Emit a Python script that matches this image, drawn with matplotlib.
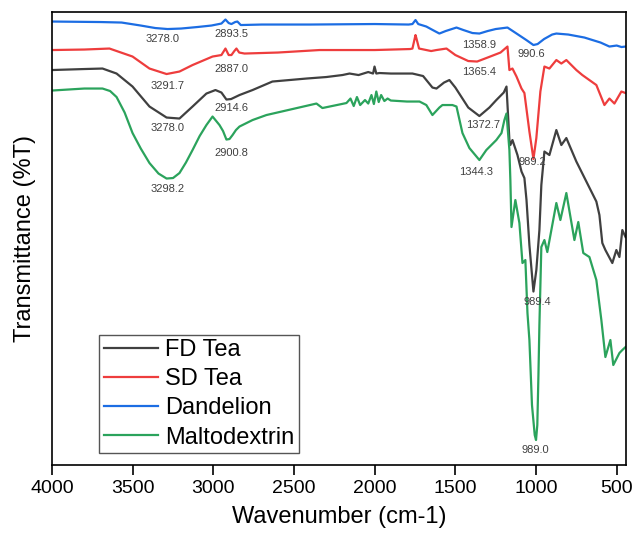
import matplotlib
matplotlib.use("Agg")
import matplotlib.pyplot as plt

plt.rcParams["font.family"] = ["Liberation Sans", "DejaVu Sans"]

# FTIR spectra, values (wavenumber cm-1, transmittance a.u.)
fd_wn = [4000, 3800, 3687, 3600, 3501, 3396, 3290, 3210, 3129, 3043, 2987, 2950, 2919,
         2890, 2838, 2757, 2634, 2423, 2300, 2200, 2156, 2100, 2040, 2010, 2001, 1990,
         1970, 1900, 1766, 1700, 1642, 1617, 1570, 1537, 1500, 1420, 1351, 1289, 1246,
         1200, 1183, 1165, 1159, 1146, 1115, 1090, 1072, 1059, 1041, 1016, 998, 979, 967,
         948, 917, 874, 843, 812, 750, 688, 626, 607, 589, 570, 527, 502, 483, 465, 445]
fd_t = [79.0, 79.2, 79.3, 78.3, 75.7, 71.7, 69.5, 69.3, 71.7, 74.3, 75.0, 74.5, 73.1,
        73.2, 74.0, 75.0, 76.7, 77.3, 77.6, 78.0, 78.3, 78.0, 78.6, 78.3, 79.7, 78.3,
        78.4, 78.3, 78.3, 77.8, 75.5, 75.3, 76.5, 77.0, 75.5, 71.5, 69.8, 71.5, 73.0,
        74.5, 75.7, 65.0, 64.0, 65.0, 62.0, 58.7, 57.4, 53.0, 44.0, 34.7, 39.0, 47.0, 56.0,
        62.7, 62.0, 67.0, 64.0, 65.4, 60.7, 56.7, 52.7, 50.0, 44.4, 43.0, 40.4, 43.0, 41.6,
        47.0, 45.6]

sd_wn = [4000, 3800, 3644, 3501, 3396, 3290, 3210, 3129, 3005, 2950, 2925, 2905, 2888,
         2870, 2857, 2840, 2807, 2600, 2342, 2000, 1780, 1766, 1747, 1741, 1725, 1650,
         1617, 1555, 1500, 1420, 1365, 1300, 1220, 1177, 1165, 1146, 1121, 1090, 1072,
         1041, 1016, 998, 973, 948, 917, 874, 843, 812, 750, 713, 626, 576, 545, 514, 471, 445]
sd_t = [83.0, 83.1, 83.3, 81.7, 79.3, 78.2, 78.7, 80.0, 81.7, 82.0, 83.3, 82.0, 82.0,
        82.8, 83.3, 82.5, 82.3, 82.5, 83.0, 83.0, 83.2, 83.3, 86.0, 85.3, 83.3, 82.8,
        83.0, 83.3, 82.0, 80.8, 80.7, 81.5, 82.5, 83.7, 79.0, 79.3, 77.7, 75.3, 74.4,
        66.7, 61.2, 65.4, 74.7, 79.7, 79.3, 81.0, 80.3, 81.0, 79.0, 78.0, 76.0, 72.0, 73.3,
        72.3, 74.7, 74.4]

dn_wn = [4000, 3700, 3569, 3450, 3360, 3284, 3200, 3100, 3012, 2950, 2925, 2905, 2888,
         2865, 2851, 2830, 2700, 2400, 2000, 1790, 1766, 1747, 1730, 1680, 1640, 1599,
         1560, 1493, 1450, 1394, 1351, 1300, 1250, 1177, 1130, 1060, 1016, 990, 950, 900,
         874, 800, 700, 600, 545, 500, 470, 445]
dn_t = [88.7, 88.6, 88.5, 87.9, 87.4, 87.2, 87.3, 87.6, 87.9, 88.3, 89.1, 88.4, 88.2,
        88.6, 88.7, 88.0, 88.1, 88.1, 88.2, 88.1, 88.2, 89.0, 88.2, 87.7, 87.0, 86.3,
        86.8, 87.5, 87.0, 86.4, 86.3, 86.8, 87.2, 87.5, 86.5, 85.0, 84.0, 84.2, 85.2, 86.1,
        86.3, 86.1, 85.5, 84.5, 83.7, 83.9, 83.6, 83.7]

md_wn = [4000, 3800, 3687, 3640, 3600, 3550, 3501, 3450, 3396, 3340, 3290, 3250, 3210,
         3170, 3129, 3085, 3043, 3005, 2962, 2940, 2919, 2900, 2881, 2860, 2838, 2757,
         2671, 2361, 2324, 2175, 2150, 2130, 2110, 2090, 2060, 2040, 2020, 2005, 1990,
         1975, 1960, 1940, 1920, 1900, 1800, 1722, 1680, 1642, 1599, 1580, 1518, 1493,
         1456, 1413, 1351, 1308, 1246, 1214, 1196, 1183, 1165, 1159, 1152, 1128, 1103,
         1084, 1066, 1053, 1041, 1025, 1008, 1000, 992, 985, 979, 967, 948, 930, 874,
         849, 812, 762, 738, 707, 669, 626, 595, 570, 539, 521, 483, 465, 445]
md_t = [74.9, 75.3, 75.3, 74.8, 73.6, 70.5, 66.4, 63.3, 60.4, 58.3, 57.3, 57.4, 58.4,
        60.5, 63.0, 65.8, 68.0, 69.7, 68.0, 66.8, 65.1, 65.2, 66.0, 67.0, 67.7, 69.0,
        70.0, 72.3, 71.4, 72.4, 73.3, 71.8, 73.6, 72.0, 73.0, 72.3, 74.0, 72.2, 74.7,
        72.6, 74.0, 72.8, 73.3, 72.9, 72.7, 72.7, 72.0, 70.0, 71.5, 72.0, 72.0, 71.7,
        66.4, 63.4, 61.0, 63.0, 65.0, 66.4, 69.0, 70.3, 63.0, 57.0, 47.6, 53.0, 48.4,
        40.4, 41.0, 30.4, 25.0, 12.0, 6.0, 5.0, 8.0, 18.0, 28.0, 43.6, 45.0, 42.6, 52.4,
        49.0, 54.4, 45.0, 48.6, 42.4, 41.6, 37.0, 29.0, 21.6, 25.0, 20.0, 22.4, 23.0, 23.6]

# peak labels: (text, wavenumber position, transmittance position)
peak_labels = [
    ("3278.0", 3315, 85.2), ("2893.5", 2888, 86.2), ("1358.9", 1351, 84.0), ("990.6", 1030, 82.2),
    ("3291.7", 3284, 75.8), ("2887.0", 2888, 79.2), ("1365.4", 1351, 78.6), ("989.2", 1022, 60.6),
    ("3278.0", 3284, 67.4), ("2914.6", 2888, 71.4), ("1372.7", 1326, 68.0), ("989.4", 991, 32.6),
    ("3298.2", 3284, 55.2), ("2900.8", 2888, 62.4), ("1344.3", 1370, 58.6), ("989.0", 1004, 3.0),
]

fig = plt.figure(figsize=(6.33, 5.35), dpi=100)
ax = fig.add_axes([0.0822, 0.1308, 0.9068, 0.8467])

lw = 1.6
ax.plot(fd_wn, fd_t, color="#404040", lw=lw, label="FD Tea")
ax.plot(sd_wn, sd_t, color="#ee3d3d", lw=lw, label="SD Tea")
ax.plot(dn_wn, dn_t, color="#1c6de3", lw=lw, label="Dandelion")
ax.plot(md_wn, md_t, color="#2ba35c", lw=lw, label="Maltodextrin")

for txt, x, y in peak_labels:
    ax.text(x, y, txt, fontsize=8, color="#404040", ha="center", va="center")

ax.set_xlim(4000, 442)
ax.set_ylim(0, 90.6)
ax.set_xticks([4000, 3500, 3000, 2500, 2000, 1500, 1000, 500])
ax.set_yticks([])
ax.tick_params(axis="x", direction="out", length=7, width=1.2, labelsize=14, pad=4)
for sp in ax.spines.values():
    sp.set_linewidth(1.2)

ax.set_xlabel("Wavenumber (cm-1)", fontsize=17, labelpad=6)
ax.set_ylabel("Transmittance (%T)", fontsize=17)
ax.yaxis.set_label_coords(-0.028, 0.5)

leg = ax.legend(loc="lower left", bbox_to_anchor=(0.082, 0.026), borderaxespad=0,
                fontsize=17, fancybox=False, edgecolor="#555555", framealpha=1,
                handlelength=2.3, handletextpad=0.3, labelspacing=0.3, borderpad=0.2)
leg.get_frame().set_linewidth(1.0)

fig.savefig("out.png", dpi=100)
